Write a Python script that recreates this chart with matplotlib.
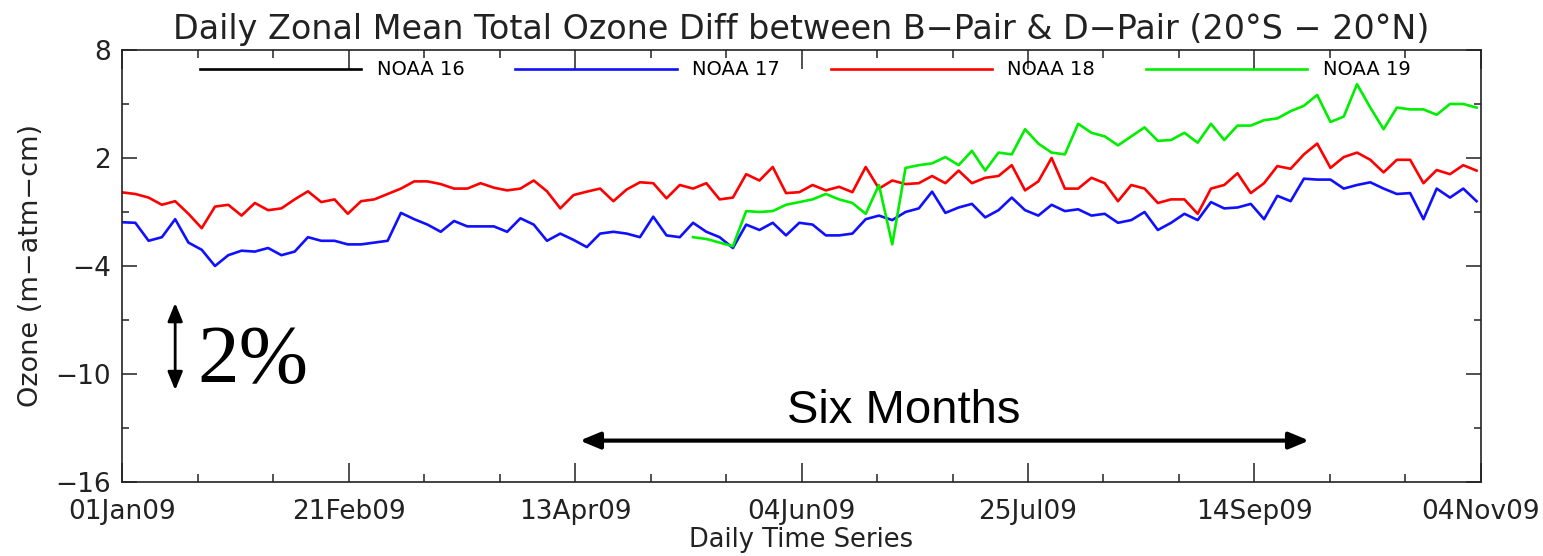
import numpy as np
import matplotlib
matplotlib.use("Agg")
import matplotlib.pyplot as plt

# daily zonal mean ozone diff, read every 3 days from 01Jan09
days = np.arange(0, 307, 3)
noaa16 = []
noaa17 = [-1.57, -1.6, -2.6, -2.4, -1.4, -2.7, -3.1, -4.0, -3.4, -3.15, -3.2, -3.0, -3.4, -3.2,
          -2.4, -2.6, -2.6, -2.8, -2.8, -2.7, -2.6, -1.05, -1.4, -1.7, -2.1, -1.5, -1.8,
          -1.8, -1.8, -2.1, -1.35, -1.7, -2.6, -2.2, -2.55, -2.95, -2.2, -2.1, -2.2, -2.4,
          -1.26, -2.3, -2.4, -1.6, -2.1, -2.4, -3.0, -1.7, -2.0, -1.6, -2.3, -1.6,
          -1.7, -2.3, -2.3, -2.2, -1.4, -1.2, -1.45, -1.0, -0.8, 0.13, -1.05, -0.75, -0.55,
          -1.3, -0.9, -0.2, -0.9, -1.2, -0.6, -0.95, -0.85, -1.2, -1.1, -1.6, -1.45, -1.0,
          -2.0, -1.6, -1.1, -1.45, -0.45, -0.8, -0.75, -0.55, -1.4, -0.1, -0.4, 0.85, 0.8,
          0.8, 0.3, 0.5, 0.65, 0.3, 0.0, 0.05, -1.4, 0.3, -0.2, 0.3, -0.4]
noaa18 = [0.09, 0.0, -0.2, -0.6, -0.4, -1.1, -1.9, -0.7, -0.6, -1.2, -0.5, -0.9, -0.8, -0.3,
          0.15, -0.45, -0.3, -1.1, -0.4, -0.3, 0.0, 0.3, 0.7, 0.7, 0.55, 0.3, 0.3,
          0.6, 0.35, 0.2, 0.3, 0.75, 0.15, -0.8, -0.06, 0.13, 0.3, -0.4, 0.25, 0.65, 0.6,
          -0.24, 0.5, 0.3, 0.6, -0.3, -0.2, 1.1, 0.75, 1.5, 0.05, 0.1,
          0.5, 0.2, 0.4, 0.1, 1.5, 0.3, 0.75, 0.55, 0.6, 1.0, 0.6, 1.3, 0.6, 0.9, 1.0, 1.6,
          0.2, 0.7, 2.0, 0.3, 0.3, 0.9, 0.6, -0.4, 0.5, 0.3,
          -0.5, -0.3, -0.3, -1.1, 0.3, 0.5, 1.15, 0.05, 0.6, 1.55, 1.4, 2.2, 2.8, 1.45,
          2.05, 2.3, 1.9, 1.2, 1.9, 1.9, 0.6, 1.33, 1.1, 1.6, 1.3]
noaa19_start = 129
noaa19 = [-2.4, -2.5, -2.7, -2.9, -0.95, -1.0, -0.95, -0.6, -0.45,
          -0.3, 0.0, -0.3, -0.5, -1.1, 0.5, -2.8, 1.45, 1.6, 1.7, 2.05, 1.6, 2.4, 1.3, 2.3,
          2.2, 3.6, 2.8, 2.3, 2.2, 3.9, 3.4, 3.2, 2.7, 3.2, 3.7,
          2.95, 3.0, 3.4, 2.85, 3.9, 3.0, 3.8, 3.8, 4.1, 4.2, 4.6, 4.9, 5.5, 4.0, 4.3, 6.1,
          4.8, 3.6, 4.8, 4.7, 4.7, 4.4, 5.0, 5.0, 4.8]

xtick_labels = ["01Jan09", "21Feb09", "13Apr09", "04Jun09", "25Jul09", "14Sep09", "04Nov09"]
yticks = [8, 2, -4, -10, -16]
yticks_minor = [5, -1, -7, -13]
last_day = 307

fig = plt.figure(figsize=(15.43, 5.56), dpi=100)
ax = fig.add_axes([0.0791, 0.1331, 0.8807, 0.7770])

days19 = days[days >= noaa19_start]
ax.plot(days[:0], noaa16, color="black", lw=1.9, label="NOAA 16")
ax.plot(days, noaa17, color="#1010ff", lw=1.9, label="NOAA 17")
ax.plot(days, noaa18, color="#ff0000", lw=1.9, label="NOAA 18")
ax.plot(days19, noaa19, color="#00ee00", lw=1.9, label="NOAA 19")

ax.set_xlim(0, last_day)
ax.set_ylim(-16, 8)
ax.set_xticks(np.linspace(0, last_day, len(xtick_labels)))
ax.set_xticklabels(xtick_labels)
ax.set_xticks(np.linspace(0, last_day, 3 * (len(xtick_labels) - 1) + 1), minor=True)
ax.set_yticks(yticks)
ax.set_yticklabels([str(v).replace("-", "\u2212") for v in yticks])
ax.set_yticks(yticks_minor, minor=True)

ax.tick_params(which="both", direction="in", top=True, right=True, colors="#222222",
               labelsize=19, width=1.1)
ax.tick_params(axis="x", which="major", length=14, pad=12)
ax.tick_params(axis="x", which="minor", length=6)
ax.tick_params(axis="y", which="major", length=11, pad=8)
ax.tick_params(axis="y", which="minor", length=5)
for sp in ax.spines.values():
    sp.set_linewidth(1.2)
    sp.set_color("#222222")

ax.set_title("Daily Zonal Mean Total Ozone Diff between B\u2212Pair & D\u2212Pair (20\u00b0S \u2212 20\u00b0N)",
             fontsize=24, pad=8, color="#222222")
ax.set_xlabel("Daily Time Series", fontsize=18.5, labelpad=2, color="#222222")
ax.set_ylabel("Ozone (m\u2212atm\u2212cm)", fontsize=19.5, labelpad=8, color="#222222")

ax.legend(loc="center left", bbox_to_anchor=(0.0574, 0.954), ncol=4, frameon=False,
          fontsize=14, handlelength=8.3, handletextpad=0.8, columnspacing=2.6,
          borderpad=0, borderaxespad=0)

# overlaid annotations
ax.annotate("", xy=(12, -5.9), xytext=(12, -11.05),
            arrowprops=dict(arrowstyle="<|-|>,head_length=1.1,head_width=0.45", color="black", lw=2))
ax.text(17, -10.45, "2%", fontsize=60, family="Liberation Serif", ha="left", va="baseline")
ax.annotate("", xy=(102.8, -13.7), xytext=(268.8, -13.7),
            arrowprops=dict(arrowstyle="<|-|>,head_length=1.2,head_width=0.5", color="black", lw=3))
ax.text(176.6, -12.7, "Six Months", fontsize=34, family="Liberation Sans", ha="center", va="baseline")

fig.savefig("out.png", dpi=100)
